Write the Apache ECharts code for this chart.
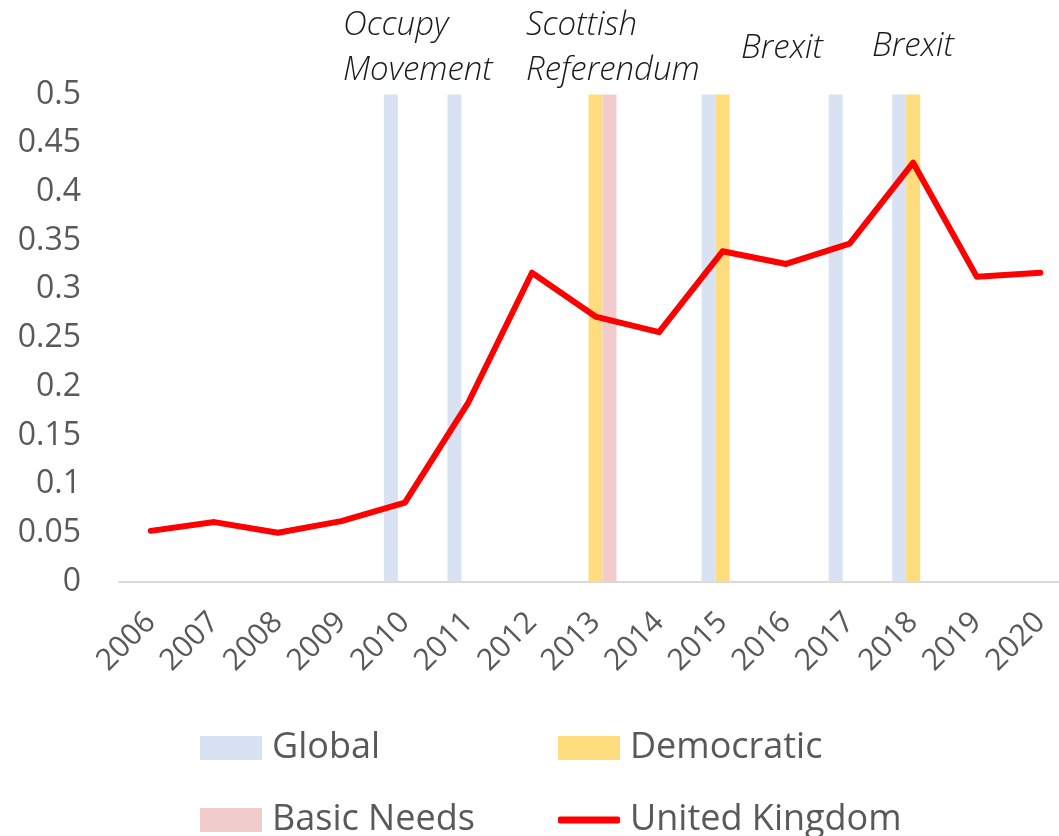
<!DOCTYPE html>
<html>
<head>
<meta charset="utf-8">
<script src="https://cdn.jsdelivr.net/npm/echarts@6/dist/echarts.min.js"></script>
<style>
  html, body { margin: 0; padding: 0; background: #fff; overflow: hidden; }
  /* the plot runs a little past the right edge of the window */
  #chart { width: 1076px; height: 836px; }
</style>
</head>
<body>
<div id="chart"></div>
<script>
// Years on the category axis
const years = ['2006','2007','2008','2009','2010','2011','2012','2013','2014','2015','2016','2017','2018','2019','2020'];

// Event-type indicator bars (full height where an event occurred)
const globalEvents      = [null,null,null,null,0.5,0.5,null,null,null,0.5,null,0.5,0.5,null,null];
const democraticEvents  = [null,null,null,null,null,null,null,0.5,null,0.5,null,null,0.5,null,null];
const basicNeedsEvents  = [null,null,null,null,null,null,null,0.5,null,null,null,null,null,null,null];

// United Kingdom index
const ukValues = [0.052,0.061,0.050,0.062,0.081,0.184,0.317,0.272,0.256,0.339,0.326,0.347,0.430,0.313,0.317];

// Y axis range
const yMin = 0, yMax = 0.5, yStep = 0.05;

// Event annotations above the plot
const annotations = [
  { lines: ['Occupy', 'Movement'], left: 343, top: 3 },
  { lines: ['Scottish', 'Referendum'], left: 526, top: 3 },
  { lines: ['Brexit'], left: 741, top: 26 },
  { lines: ['Brexit'], left: 872, top: 24 }
];

const FONT = '"Open Sans", "Noto Sans", sans-serif';
const GREY = '#595959';

const chart = echarts.init(document.getElementById('chart'), null, { renderer: 'canvas' });

function legendItem(name, left, top, extra) {
  return Object.assign({
    data: [name],
    left: left,
    top: top,
    padding: 0,
    itemWidth: 62,
    itemHeight: 24,
    icon: 'rect',
    selectedMode: false,
    textStyle: { fontFamily: FONT, fontSize: 36, color: GREY, padding: [0, 0, 0, 5] }
  }, extra || {});
}

const option = {
  animation: false,
  backgroundColor: '#ffffff',
  grid: { left: 119, width: 953, top: 94.5, bottom: 254.5, containLabel: false },
  xAxis: {
    type: 'category',
    data: years,
    boundaryGap: true,
    axisLine: { show: true, lineStyle: { color: '#D9D9D9', width: 2 } },
    axisTick: { show: false },
    axisLabel: {
      rotate: 45,
      margin: 36,
      interval: 0,
      color: GREY,
      fontFamily: FONT,
      fontSize: 30
    },
    splitLine: { show: false }
  },
  yAxis: {
    type: 'value',
    min: yMin,
    max: yMax,
    interval: yStep,
    axisLine: { show: false },
    axisTick: { show: false },
    splitLine: { show: false },
    axisLabel: {
      margin: 38,
      color: GREY,
      fontFamily: FONT,
      fontSize: 32,
      formatter: v => String(+v.toFixed(2))
    }
  },
  legend: [
    legendItem('Global', 200, 730),
    legendItem('Democratic', 558, 730),
    legendItem('Basic Needs', 200, 802),
    legendItem('United Kingdom', 558, 802, { icon: 'roundRect', itemHeight: 7 })
  ],
  series: [
    {
      name: 'Global', type: 'bar', data: globalEvents,
      barWidth: 14, barGap: '0%',
      itemStyle: { color: '#D9E2F3' }
    },
    {
      name: 'Democratic', type: 'bar', data: democraticEvents,
      barWidth: 14, barGap: '0%',
      itemStyle: { color: '#FFDD7F' }
    },
    {
      name: 'Basic Needs', type: 'bar', data: basicNeedsEvents,
      barWidth: 14, barGap: '0%',
      itemStyle: { color: '#F2CBCD' }
    },
    {
      name: 'United Kingdom', type: 'line', data: ukValues,
      symbol: 'none', z: 5,
      itemStyle: { color: '#FF0000' },
      lineStyle: { color: '#FF0000', width: 6, cap: 'round', join: 'round' }
    }
  ],
  graphic: annotations.map(a => ({
    type: 'text',
    left: a.left,
    top: a.top,
    style: {
      text: a.lines.join('\n'),
      fill: '#1a1a1a',
      fontFamily: FONT,
      fontStyle: 'italic',
      fontWeight: 300,
      fontSize: 33,
      lineHeight: 45
    }
  }))
};

chart.setOption(option);
</script>
</body>
</html>
